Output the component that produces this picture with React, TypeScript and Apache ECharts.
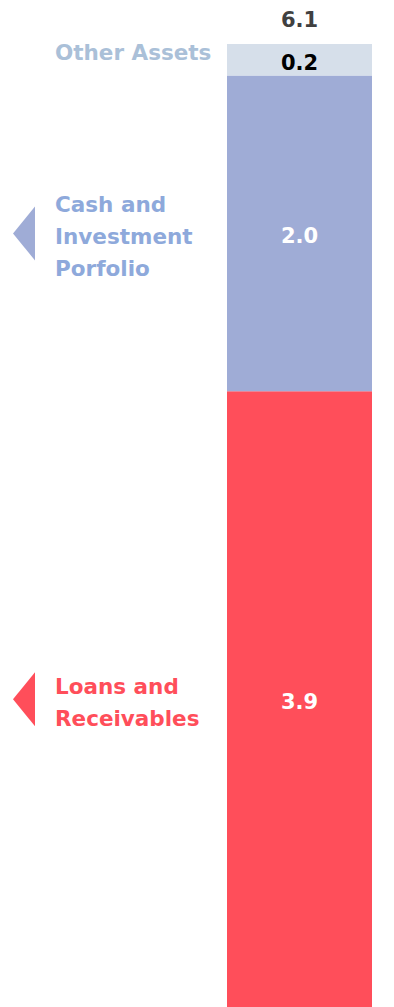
import React, { useEffect, useRef } from "react";
import * as echarts from "echarts";

// Balance sheet composition, one stacked column (bottom to top)
const categories = ["Total Assets"];
const segmentNames = ["Loans and\nReceivables", "Cash and\nInvestment\nPorfolio", "Other Assets"];
const segmentValues = [3.9, 2.0, 0.2];
const totalValue = 6.1;

const barColors = ["#FF4E5A", "#9FACD6", "#D6DFEA"];
const valueLabelColors = ["#FFFFFF", "#FFFFFF", "#000000"];
const nameColors = ["#FF4E5A", "#8EA9DB", "#AAC0D8"];
const showMarker = [true, true, false];

const FONT = "'DejaVu Sans', Verdana, sans-serif";

export default function App() {
  const ref = useRef<HTMLDivElement>(null);

  useEffect(() => {
    document.body.style.margin = "0";
    if (!ref.current) return;
    const chart = echarts.init(ref.current, undefined, { renderer: "svg" });

    // midpoints of each stacked segment
    const mids: number[] = [];
    let acc = 0;
    segmentValues.forEach((v) => {
      mids.push(acc + v / 2);
      acc += v;
    });

    const barCenterX = 227 + 145 / 2;
    const markerX = 24;
    const textX = 55;

    const barSeries = segmentValues.map((v, i) => ({
      type: "bar",
      name: segmentNames[i],
      stack: "assets",
      barWidth: "100%",
      data: [v],
      itemStyle: { color: barColors[i] },
      label: {
        show: true,
        position: "inside",
        formatter: (p: any) => Number(p.value).toFixed(1),
        color: valueLabelColors[i],
        fontFamily: FONT,
        fontWeight: "bold",
        fontSize: 21,
        offset: [0, 3],
      },
    }));

    const markerSeries = {
      type: "scatter",
      data: segmentValues
        .map((_, i) => ({
          value: [0, mids[i]],
          itemStyle: { color: barColors[i], opacity: 1 },
        }))
        .filter((_, i) => showMarker[i]),
      symbol: "triangle",
      symbolSize: [54, 22],
      symbolRotate: 90,
      symbolOffset: [markerX - barCenterX, 0],
      itemStyle: { opacity: 1 },
      silent: true,
      z: 5,
    };

    const nameSeries = {
      type: "scatter",
      symbolSize: 0,
      silent: true,
      itemStyle: { opacity: 1 },
      data: segmentValues.map((_, i) => ({
        value: [0, mids[i]],
        name: segmentNames[i],
        label: {
          color: nameColors[i],
          offset: [textX - barCenterX, i === 2 ? -7 : 3],
        },
      })),
      label: {
        show: true,
        position: "inside",
        align: "left",
        verticalAlign: "middle",
        formatter: (p: any) => p.name,
        fontFamily: FONT,
        fontWeight: "bold",
        fontSize: 21.5,
        lineHeight: 32,
      },
      z: 6,
    };

    const totalSeries = {
      type: "scatter",
      symbolSize: 0,
      silent: true,
      itemStyle: { opacity: 1 },
      data: [{ value: [0, totalValue], name: "Total" }],
      label: {
        show: true,
        position: "top",
        distance: 14,
        formatter: () => totalValue.toFixed(1),
        color: "#404040",
        fontFamily: FONT,
        fontWeight: "bold",
        fontSize: 21,
      },
      z: 6,
    };

    chart.setOption({
      animation: false,
      grid: { left: 227, width: 145, top: 44, bottom: 0 },
      xAxis: {
        type: "category",
        data: categories,
        show: false,
        boundaryGap: true,
      },
      yAxis: { type: "value", min: 0, max: totalValue, show: false },
      series: [...barSeries, markerSeries, nameSeries, totalSeries],
    });

    return () => chart.dispose();
  }, []);

  return <div ref={ref} style={{ width: 394, height: 1007 }} />;
}
